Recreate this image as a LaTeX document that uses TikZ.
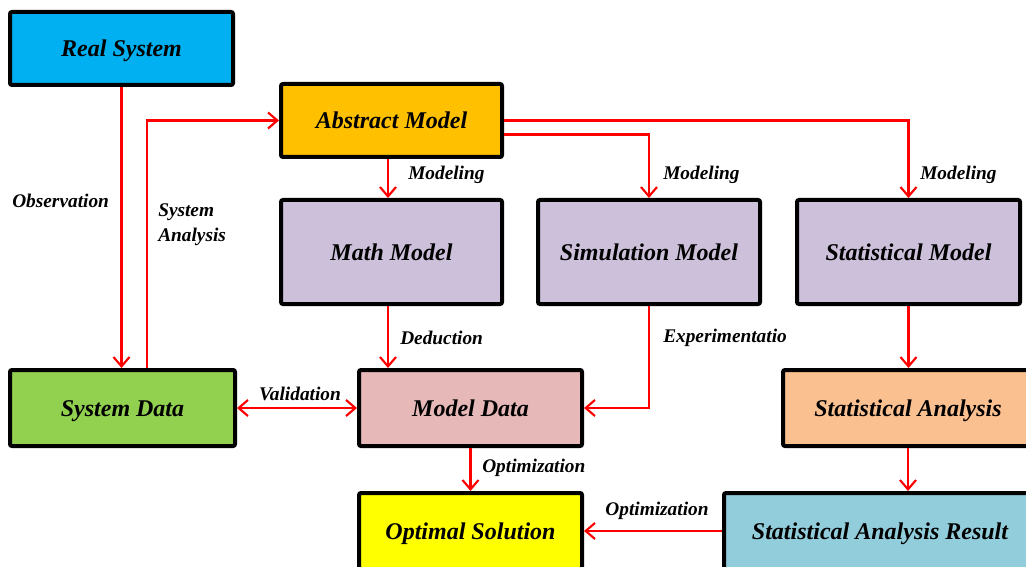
\documentclass[tikz,border=0pt]{standalone}
\usepackage{fontspec}
\setmainfont{Liberation Serif}
\usetikzlibrary{arrows.meta}
\definecolor{cReal}{HTML}{00B0F0}
\definecolor{cAbs}{HTML}{FFC000}
\definecolor{cLav}{HTML}{CCC0DA}
\definecolor{cGreen}{HTML}{92D050}
\definecolor{cPink}{HTML}{E6B8B7}
\definecolor{cPeach}{HTML}{FAC090}
\definecolor{cYel}{HTML}{FFFF00}
\definecolor{cBlue}{HTML}{92CDDC}
\definecolor{cRed}{HTML}{FF0000}
\begin{document}
\begin{tikzpicture}[x=0.75pt,y=-0.75pt,
  box/.style={draw=black,line width=3pt,rounded corners=1.5pt,inner sep=0pt,
    text height=12pt,text depth=0pt,
    font=\fontsize{18}{20}\selectfont\bfseries\itshape},
  arr/.style={draw=cRed,line width=1.8pt,-{Straight Barb[length=7pt,width=12pt,line width=1.6pt]}},
  darr/.style={draw=cRed,line width=1.8pt,{Straight Barb[length=7pt,width=12pt,line width=1.6pt]}-{Straight Barb[length=7pt,width=12pt,line width=1.6pt]}},
  lab/.style={inner sep=0pt,font=\fontsize{14.5}{18.75}\selectfont\bfseries\itshape}]
\useasboundingbox (0,0) rectangle (1026,567);
\clip (0,0) rectangle (1026,567);
% boxes
\node[box,fill=cReal,minimum width=223*0.75pt,minimum height=73*0.75pt] (real) at (121.5,48.5) {Real System};
\node[box,fill=cAbs,minimum width=221*0.75pt,minimum height=73*0.75pt] (abs) at (391.5,120.5) {Abstract Model};
\node[box,fill=cLav,minimum width=221*0.75pt,minimum height=104*0.75pt] (math) at (391.5,252) {Math Model};
\node[box,fill=cLav,minimum width=222*0.75pt,minimum height=104*0.75pt] (sim) at (649,252) {Simulation Model};
\node[box,fill=cLav,minimum width=223*0.75pt,minimum height=104*0.75pt] (smod) at (908.5,252) {Statistical Model};
\node[box,fill=cGreen,minimum width=225*0.75pt,minimum height=76*0.75pt] (sdata) at (122.5,408) {System Data};
\node[box,fill=cPink,minimum width=223*0.75pt,minimum height=76*0.75pt] (mdata) at (470.5,408) {Model Data};
\node[box,fill=cPeach,minimum width=250*0.75pt,minimum height=76*0.75pt] (san) at (908,408) {Statistical Analysis};
\node[box,fill=cYel,minimum width=223*0.75pt,minimum height=76*0.75pt] (opt) at (470.5,531) {Optimal Solution};
\node[box,fill=cBlue,minimum width=312*0.75pt,minimum height=76*0.75pt] (res) at (880,531) {Statistical Analysis Result};
% connectors
\draw[arr] (real.south) -- (real.south |- sdata.north);
\draw[arr] (sdata.north -| 147,0) |- (abs.west);
\draw[arr] (abs.south -| 388,0) -- (math.north -| 388,0);
\draw[arr] (abs.east) -| (smod.north);
\draw[arr] ([yshift=-14*0.75pt]abs.east) -| (sim.north);
\draw[arr] (math.south -| 388,0) -- (mdata.north -| 388,0);
\draw[arr] (sim.south) |- (mdata.east);
\draw[darr] (sdata.east) -- (mdata.west);
\draw[arr] (smod.south) -- (smod.south |- san.north);
\draw[arr] (san.south) -- (san.south |- res.north);
\draw[arr] (mdata.south) -- (opt.north);
\draw[arr] (res.west) -- (opt.east);
% labels
\node[lab,anchor=west] (l1) at (408,175) {Modeling};
\node[lab,anchor=west] (l2) at (663,175) {Modeling};
\node[lab,anchor=west] (l3) at (920,175) {Modeling};
\node[lab,anchor=west] (l4) at (12,201) {Observation};
\node[lab,anchor=west,align=left] (l5) at (158,225) {System\\Analysis};
\node[lab,anchor=west] (l6) at (400,338) {Deduction};
\node[lab,anchor=west] (l7) at (663,338) {Experimentatio};
\node[lab] (l8) at (300,394) {Validation};
\node[lab,anchor=west] (l9) at (482,468) {Optimization};
\node[lab] (l10) at (657,511) {Optimization};
\end{tikzpicture}
\end{document}
